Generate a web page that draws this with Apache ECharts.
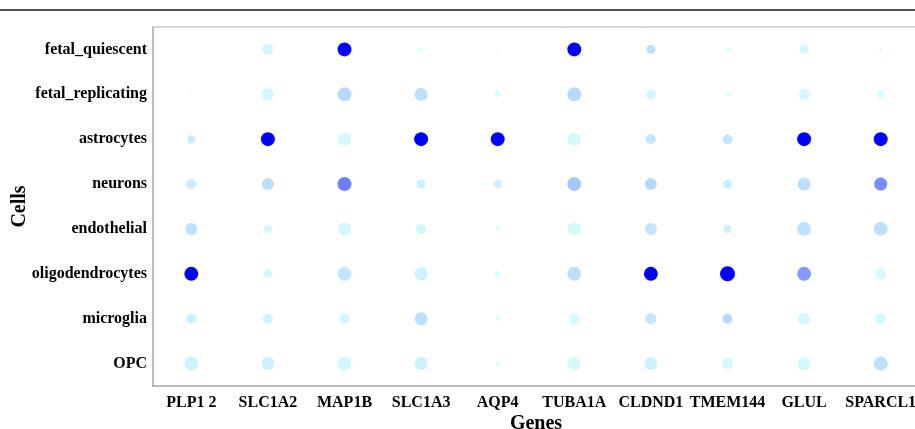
<!DOCTYPE html>
<html>
<head>
<meta charset="utf-8">
<script src="https://cdn.jsdelivr.net/npm/echarts@6/dist/echarts.min.js"></script>
<style>html,body{margin:0;padding:0;background:#fff}#c{width:915px;height:429px}</style>
</head>
<body>
<div id="c"></div>
<script>
var genes = ['PLP1 2','SLC1A2','MAP1B','SLC1A3','AQP4','TUBA1A','CLDND1','TMEM144','GLUL','SPARCL1'];
var cells = ['fetal_quiescent','fetal_replicating','astrocytes','neurons','endothelial','oligodendrocytes','microglia','OPC'];

// percent of cells expressing (dot size), one row per cell type
var pct_fetal_quiescent   = [7, 73, 93, 27, 13, 93, 60, 27, 60, 20];
var pct_fetal_replicating = [13, 80, 93, 87, 40, 93, 67, 27, 73, 53];
var pct_astrocytes        = [53, 93, 87, 93, 93, 87, 67, 67, 93, 93];
var pct_neurons           = [67, 80, 93, 60, 53, 93, 80, 60, 87, 87];
var pct_endothelial       = [80, 53, 87, 67, 27, 87, 80, 53, 93, 93];
var pct_oligodendrocytes  = [93, 60, 93, 87, 40, 93, 93, 100, 93, 73];
var pct_microglia         = [67, 67, 67, 87, 27, 73, 73, 67, 80, 73];
var pct_OPC               = [93, 87, 93, 87, 27, 87, 87, 73, 87, 93];

// scaled average expression (dot colour), one row per cell type
var expr_fetal_quiescent   = [0, 0.03, 1, 0, 0, 1, 0.12, 0, 0.03, 0];
var expr_fetal_replicating = [0, 0.03, 0.15, 0.13, 0, 0.15, 0.03, 0, 0.03, 0];
var expr_astrocytes        = [0.08, 1, 0.02, 1, 1, 0.03, 0.1, 0.1, 1, 1];
var expr_neurons           = [0.08, 0.12, 0.5, 0.06, 0.06, 0.22, 0.15, 0.06, 0.12, 0.45];
var expr_endothelial       = [0.12, 0.03, 0.03, 0.03, 0, 0.02, 0.1, 0.05, 0.12, 0.12];
var expr_oligodendrocytes  = [1, 0.03, 0.1, 0.05, 0, 0.12, 1, 1, 0.4, 0.02];
var expr_microglia         = [0.06, 0.04, 0.03, 0.12, 0, 0.02, 0.1, 0.15, 0.03, 0.03];
var expr_OPC               = [0.05, 0.05, 0.03, 0.05, 0, 0.02, 0.06, 0.03, 0.03, 0.12];

var pctRows = [pct_fetal_quiescent, pct_fetal_replicating, pct_astrocytes, pct_neurons, pct_endothelial, pct_oligodendrocytes, pct_microglia, pct_OPC];
var exprRows = [expr_fetal_quiescent, expr_fetal_replicating, expr_astrocytes, expr_neurons, expr_endothelial, expr_oligodendrocytes, expr_microglia, expr_OPC];

var data = [];
for (var r = 0; r < cells.length; r++) {
  for (var g = 0; g < genes.length; g++) {
    data.push([g, r, pctRows[r][g], exprRows[r][g]]);
  }
}

var font = '"Liberation Serif", "Times New Roman", serif';
var axisColor = '#a6a6a6';
var labelStyle = {color: '#000', fontFamily: font, fontWeight: 'bold', fontSize: 16};

var chart = echarts.init(document.getElementById('c'), null, {renderer: 'canvas'});
chart.setOption({
  animation: false,
  backgroundColor: '#fff',
  grid: {left: 153, right: -4, top: 27, bottom: 43, containLabel: false, outerBoundsMode: 'none'},
  graphic: [{
    type: 'line', shape: {x1: 0, y1: 10, x2: 915, y2: 10},
    style: {stroke: '#555', lineWidth: 2}
  }],
  xAxis: [{
    type: 'category', data: genes, boundaryGap: true, position: 'bottom',
    axisLine: {lineStyle: {color: axisColor, width: 1.5}},
    axisTick: {inside: true, length: 4, alignWithLabel: true, lineStyle: {color: '#888'}},
    axisLabel: Object.assign({margin: 9, interval: 0}, labelStyle),
    splitLine: {show: false},
    name: 'Genes', nameLocation: 'middle', nameGap: 28, nameMoveOverlap: false,
    nameTextStyle: {color: '#000', fontFamily: font, fontWeight: 'bold', fontSize: 20}
  }, {
    type: 'category', data: genes, boundaryGap: true, position: 'top',
    axisLine: {lineStyle: {color: '#c8c8c8', width: 1.5}},
    axisTick: {inside: true, length: 4, alignWithLabel: true, lineStyle: {color: '#888'}},
    axisLabel: {show: false}, splitLine: {show: false}
  }],
  yAxis: [{
    type: 'category', data: cells, inverse: true, boundaryGap: true, position: 'left',
    axisLine: {lineStyle: {color: axisColor, width: 1.5}},
    axisTick: {inside: true, length: 5, alignWithLabel: true, lineStyle: {color: '#888'}},
    axisLabel: Object.assign({margin: 6, interval: 0}, labelStyle),
    splitLine: {show: false},
    name: 'Cells', nameLocation: 'middle', nameGap: 123, nameMoveOverlap: false,
    nameTextStyle: {color: '#000', fontFamily: font, fontWeight: 'bold', fontSize: 20}
  }, {
    type: 'category', data: cells, inverse: true, boundaryGap: true, position: 'right',
    axisLine: {lineStyle: {color: axisColor, width: 1.5}},
    axisTick: {inside: true, length: 5, alignWithLabel: true, lineStyle: {color: '#888'}},
    axisLabel: {show: false}, splitLine: {show: false}
  }],
  visualMap: [{
    show: false, type: 'continuous', dimension: 3, min: 0, max: 1, seriesIndex: 0,
    inRange: {color: ['#d8ffff', '#0000ff']}
  }, {
    show: false, type: 'continuous', dimension: 2, min: 0, max: 100, seriesIndex: 0,
    inRange: {symbolSize: [0, 15]}
  }],
  series: [{
    type: 'scatter', xAxisIndex: 0, yAxisIndex: 0,
    data: data, symbol: 'circle',
    itemStyle: {opacity: 1}
  }]
});
</script>
</body>
</html>
